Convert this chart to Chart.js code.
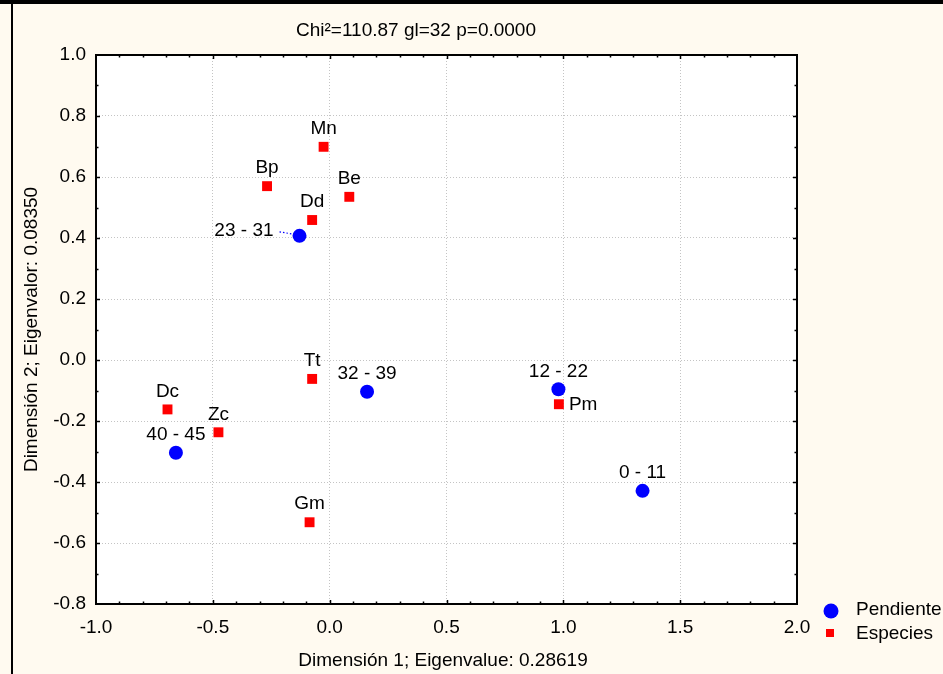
<!DOCTYPE html>
<html>
<head>
<meta charset="utf-8">
<title>Chi²=110.87 gl=32 p=0.0000</title>
<script src="https://cdn.jsdelivr.net/npm/chart.js@4.4.1/dist/chart.umd.min.js"></script>
<style>
  html, body { margin: 0; padding: 0; background: #FFFAF0; }
  #wrap { width: 943px; height: 674px; }
</style>
</head>
<body>
<div id="wrap"><canvas id="c" width="943" height="674"></canvas></div>
<script>
// Correspondence analysis coordinates: row points (slope classes) and column points (species)
const pendienteLabels = ['0 - 11', '12 - 22', '23 - 31', '32 - 39', '40 - 45'];
const pendienteX = [1.339, 0.979, -0.129, 0.160, -0.658];
const pendienteY = [-0.429, -0.096, 0.407, -0.104, -0.304];

const especiesLabels = ['Mn', 'Bp', 'Be', 'Dd', 'Tt', 'Dc', 'Zc', 'Gm', 'Pm'];
const especiesX = [-0.026, -0.268, 0.084, -0.075, -0.075, -0.694, -0.476, -0.086, 0.981];
const especiesY = [0.699, 0.570, 0.535, 0.459, -0.062, -0.162, -0.237, -0.532, -0.145];

const xTicks = { min: -1.0, max: 2.0, step: 0.5, minor: 0.1 };
const yTicks = { min: -0.8, max: 1.0, step: 0.2, minor: 0.1 };

const titleText = 'Chi²=110.87 gl=32 p=0.0000';
const xTitle = 'Dimensión 1; Eigenvalue: 0.28619';
const yTitle = 'Dimensión 2; Eigenvalor: 0.08350';
const seriesNames = ['Pendiente', 'Especies'];

const FONT = '"Liberation Sans", Arial, Helvetica, sans-serif';
const BLUE = '#0000FF';
const RED = '#FF0000';

// where a point label sits relative to its marker (default: centred above)
const labelSide = { '23 - 31': 'left', 'Pm': 'right' };

function toPoints(xs, ys) {
  return xs.map((x, i) => ({ x: x, y: ys[i] }));
}

const decor = {
  id: 'decor',
  beforeDraw(chart) {
    const { ctx, chartArea: a } = chart;
    ctx.save();
    ctx.fillStyle = '#FFFAF0';
    ctx.fillRect(0, 0, chart.width, chart.height);
    ctx.fillStyle = '#FFFFFF';
    ctx.fillRect(a.left, a.top, a.right - a.left, a.bottom - a.top);
    ctx.restore();
  },
  afterDatasetsDraw(chart) {
    const { ctx } = chart;
    ctx.save();
    ctx.font = '19px ' + FONT;
    ctx.fillStyle = '#000';
    const sets = [pendienteLabels, especiesLabels];
    sets.forEach((labels, di) => {
      const meta = chart.getDatasetMeta(di);
      meta.data.forEach((el, i) => {
        const name = labels[i];
        const side = labelSide[name];
        if (side === 'left') {
          // dotted leader towards the marker
          ctx.save();
          ctx.strokeStyle = BLUE;
          ctx.lineWidth = 1.2;
          ctx.setLineDash([1.5, 2]);
          ctx.beginPath();
          ctx.moveTo(el.x - 20, el.y - 4);
          ctx.lineTo(el.x - 8, el.y - 2);
          ctx.stroke();
          ctx.restore();
          ctx.textAlign = 'right';
          ctx.textBaseline = 'middle';
          ctx.fillText(name, el.x - 26, el.y - 5);
        } else if (side === 'right') {
          ctx.textAlign = 'left';
          ctx.textBaseline = 'middle';
          ctx.fillText(name, el.x + 10, el.y + 1);
        } else {
          ctx.textAlign = 'center';
          ctx.textBaseline = 'middle';
          ctx.fillText(name, el.x, el.y - 18);
        }
      });
    });
    ctx.restore();
  },
  afterDraw(chart) {
    const { ctx, chartArea: a } = chart;
    const xs = chart.scales.x, ys = chart.scales.y;
    ctx.save();
    // plot frame
    ctx.strokeStyle = '#000';
    ctx.lineWidth = 2;
    ctx.strokeRect(a.left, a.top, a.right - a.left, a.bottom - a.top);
    // inward tick marks on all four sides
    ctx.lineWidth = 1.5;
    ctx.beginPath();
    const nx = Math.round((xTicks.max - xTicks.min) / xTicks.minor);
    for (let k = 1; k < nx; k++) {
      const v = xTicks.min + k * xTicks.minor;
      const r = v / xTicks.step;
      const len = Math.abs(r - Math.round(r)) < 1e-6 ? 4 : 2.5;
      const px = Math.round(xs.getPixelForValue(v)) + 0.5;
      ctx.moveTo(px, a.bottom); ctx.lineTo(px, a.bottom - len);
      ctx.moveTo(px, a.top); ctx.lineTo(px, a.top + len);
    }
    const ny = Math.round((yTicks.max - yTicks.min) / yTicks.minor);
    for (let k = 1; k < ny; k++) {
      const v = yTicks.min + k * yTicks.minor;
      const r = v / yTicks.step;
      const len = Math.abs(r - Math.round(r)) < 1e-6 ? 4 : 2.5;
      const py = Math.round(ys.getPixelForValue(v)) + 0.5;
      ctx.moveTo(a.left, py); ctx.lineTo(a.left + len, py);
      ctx.moveTo(a.right, py); ctx.lineTo(a.right - len, py);
    }
    ctx.stroke();

    // titles
    ctx.fillStyle = '#000';
    ctx.font = '19px ' + FONT;
    ctx.textAlign = 'center';
    ctx.textBaseline = 'middle';
    ctx.fillText(titleText, 416, 31);
    ctx.fillText(xTitle, 443, 661);
    ctx.save();
    ctx.translate(32, (a.top + a.bottom) / 2);
    ctx.rotate(-Math.PI / 2);
    ctx.fillText(yTitle, 0, 0);
    ctx.restore();

    // legend
    ctx.fillStyle = BLUE;
    ctx.beginPath();
    ctx.arc(831, 611, 7.5, 0, Math.PI * 2);
    ctx.fill();
    ctx.fillStyle = RED;
    ctx.fillRect(826, 629, 8, 8);
    ctx.fillStyle = '#000';
    ctx.textAlign = 'left';
    ctx.fillText(seriesNames[0], 856, 610);
    ctx.fillText(seriesNames[1], 856, 634);

    // outer window frame
    ctx.fillStyle = '#000';
    ctx.fillRect(0, 0, chart.width, 4);
    ctx.fillRect(11, 0, 2, chart.height);
    ctx.restore();
  }
};

new Chart(document.getElementById('c'), {
  type: 'scatter',
  data: {
    datasets: [
      {
        label: seriesNames[0],
        data: toPoints(pendienteX, pendienteY),
        pointStyle: 'circle',
        pointRadius: 7,
        pointHoverRadius: 7,
        backgroundColor: BLUE,
        borderColor: BLUE,
        borderWidth: 0
      },
      {
        label: seriesNames[1],
        data: toPoints(especiesX, especiesY),
        pointStyle: 'rect',
        pointRadius: 7,
        pointHoverRadius: 7,
        backgroundColor: RED,
        borderColor: RED,
        borderWidth: 0
      }
    ]
  },
  options: {
    responsive: false,
    animation: false,
    events: [],
    layout: { padding: { left: 0, right: 146, top: 55, bottom: 0 } },
    plugins: {
      legend: { display: false },
      title: { display: false },
      tooltip: { enabled: false }
    },
    scales: {
      x: {
        type: 'linear',
        min: xTicks.min,
        max: xTicks.max,
        afterFit(scale) { scale.height = 70; },
        ticks: {
          stepSize: xTicks.step,
          padding: 12,
          color: '#000',
          font: { family: FONT, size: 19 },
          callback: v => Number(v).toFixed(1)
        },
        grid: { color: '#c4c4c4', lineWidth: 1, drawTicks: false },
        border: { display: false, dash: [1, 2] }
      },
      y: {
        type: 'linear',
        min: yTicks.min,
        max: yTicks.max,
        afterFit(scale) { scale.width = 96; },
        ticks: {
          stepSize: yTicks.step,
          padding: 10,
          color: '#000',
          font: { family: FONT, size: 19 },
          callback: v => Number(v).toFixed(1)
        },
        grid: { color: '#c4c4c4', lineWidth: 1, drawTicks: false },
        border: { display: false, dash: [1, 2] }
      }
    }
  },
  plugins: [decor]
});
</script>
</body>
</html>
